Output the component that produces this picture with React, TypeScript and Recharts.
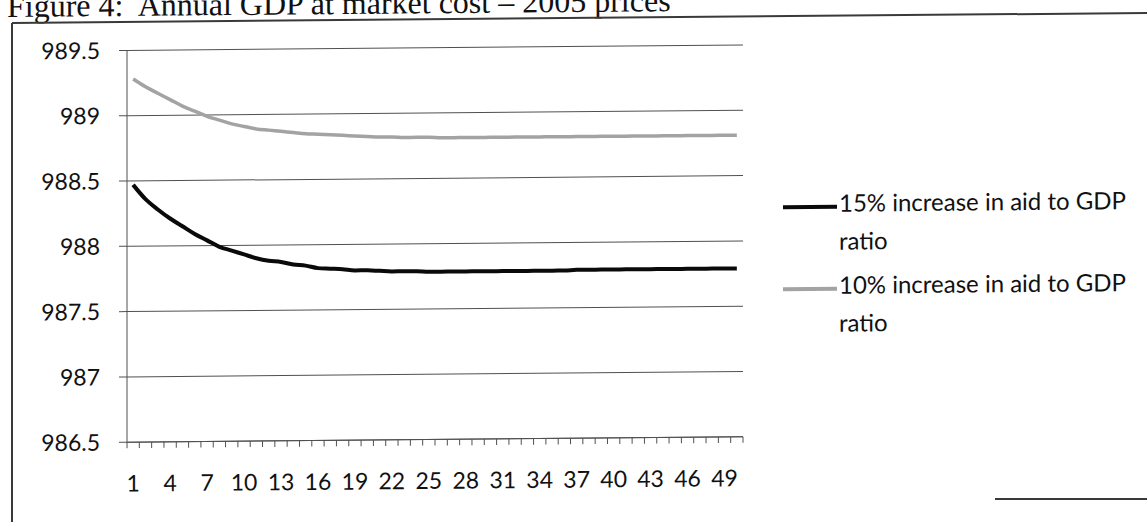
import React from 'react';
import { LineChart, Line, XAxis, YAxis, CartesianGrid } from 'recharts';

const periods = [1, 2, 3, 4, 5, 6, 7, 8, 9, 10, 11, 12, 13, 14, 15, 16, 17, 18, 19, 20, 21, 22, 23, 24, 25, 26, 27, 28, 29, 30, 31, 32, 33, 34, 35, 36, 37, 38, 39, 40, 41, 42, 43, 44, 45, 46, 47, 48, 49, 50];

const aid15 = [
  988.47, 988.36, 988.28, 988.21, 988.15, 988.09, 988.04, 987.99, 987.96, 987.93,
  987.9, 987.88, 987.87, 987.85, 987.84, 987.82, 987.815, 987.81, 987.8, 987.8,
  987.795, 987.79, 987.79, 987.79, 987.785, 987.785, 987.785, 987.785, 987.785, 987.785,
  987.785, 987.785, 987.785, 987.785, 987.785, 987.785, 987.79, 987.79, 987.79, 987.79,
  987.79, 987.79, 987.79, 987.79, 987.79, 987.79, 987.79, 987.79, 987.79, 987.79,
];

const aid10 = [
  989.28, 989.22, 989.17, 989.12, 989.07, 989.03, 988.99, 988.96, 988.93, 988.91,
  988.89, 988.88, 988.87, 988.86, 988.85, 988.845, 988.84, 988.835, 988.83, 988.825,
  988.82, 988.82, 988.815, 988.815, 988.815, 988.81, 988.81, 988.81, 988.81, 988.81,
  988.81, 988.81, 988.81, 988.81, 988.81, 988.81, 988.81, 988.81, 988.81, 988.81,
  988.81, 988.81, 988.81, 988.81, 988.81, 988.81, 988.81, 988.81, 988.81, 988.81,
];

const yTicks = [986.5, 987, 987.5, 988, 988.5, 989, 989.5];
const xLabelTicks = [1, 4, 7, 10, 13, 16, 19, 22, 25, 28, 31, 34, 37, 40, 43, 46, 49];
const xBoundaryTicks = [
  0.5, 1.5, 2.5, 3.5, 4.5, 5.5, 6.5, 7.5, 8.5, 9.5, 10.5, 11.5, 12.5, 13.5, 14.5, 15.5, 16.5,
  17.5, 18.5, 19.5, 20.5, 21.5, 22.5, 23.5, 24.5, 25.5, 26.5, 27.5, 28.5, 29.5, 30.5, 31.5, 32.5,
  33.5, 34.5, 35.5, 36.5, 37.5, 38.5, 39.5, 40.5, 41.5, 42.5, 43.5, 44.5, 45.5, 46.5, 47.5, 48.5,
  49.5, 50.5,
];

const seriesNames = ['15% increase in aid to GDP', '10% increase in aid to GDP'];
const titleText = 'Figure 4:  Annual GDP at market cost \u2013 2005 prices';

const FONT = 'Lato, "Open Sans", sans-serif';
const BLACK = '#0a0a0a';
const GRAY = '#a3a3a3';
const GRID = '#505050';

const legendItems = [
  { name: seriesNames[0], color: BLACK },
  { name: seriesNames[1], color: GRAY },
];

function LegendOverlay() {
  return (
    <div
      style={{
        position: 'absolute',
        left: 783,
        top: 191,
        width: 380,
        fontFamily: FONT,
        fontSize: 24,
        color: '#111',
        lineHeight: '38px',
      }}
    >
      {legendItems.map((it, i) => (
        <div key={i} style={{ display: 'flex', alignItems: 'flex-start', marginBottom: 6 }}>
          <div style={{ width: 54, height: 4, background: it.color, marginTop: 21, marginRight: 2, flex: 'none' }} />
          <div style={{ whiteSpace: 'pre' }}>
            {it.name}
            <br />
            ratio
          </div>
        </div>
      ))}
    </div>
  );
}

export default function App() {
  const data = periods.map((t, i) => ({ t, a15: aid15[i], a10: aid10[i] }));
  return (
    <div
      style={{
        position: 'absolute',
        left: 0,
        top: 0,
        width: 1147,
        height: 522,
        overflow: 'hidden',
        background: '#fff',
      }}
    >
      <div
        style={{
          position: 'absolute',
          left: 0,
          top: 0,
          width: 1160,
          height: 560,
          transform: 'skewY(-0.5deg)',
          transformOrigin: '0 0',
        }}
      >
        <svg width={1160} height={560} style={{ position: 'absolute', left: 0, top: 0 }}>
          <text
            x={7}
            y={17}
            fontFamily='"Liberation Serif", "Times New Roman", serif'
            fontSize={32}
            fill="#111"
            style={{ whiteSpace: 'pre' }}
          >
            {titleText}
          </text>
          <line x1={12} y1={23} x2={1160} y2={23} stroke="#3a3a3a" strokeWidth={2} />
          <line x1={12} y1={23} x2={12} y2={560} stroke="#3a3a3a" strokeWidth={2} />
        </svg>
        <div style={{ position: 'absolute', left: 0, top: 0 }}>
          <LineChart
            width={1147}
            height={522}
            data={data}
            margin={{ top: 51.5, right: 404, bottom: 20.7, left: 67 }}
          >
            <CartesianGrid vertical={false} stroke={GRID} strokeWidth={1} />
            <XAxis
              xAxisId="a"
              dataKey="t"
              type="number"
              domain={[0.5, 50.5]}
              ticks={xBoundaryTicks}
              interval={0}
              tickFormatter={() => ''}
              tickSize={6}
              height={8}
              axisLine={{ stroke: GRID, strokeWidth: 1 }}
              tickLine={{ stroke: GRID, strokeWidth: 1 }}
              allowDataOverflow
            />
            <XAxis
              xAxisId="b"
              dataKey="t"
              type="number"
              domain={[0.5, 50.5]}
              ticks={xLabelTicks}
              interval={0}
              axisLine={false}
              tickLine={false}
              tickSize={0}
              tickMargin={25}
              height={50}
              tick={{ fontFamily: FONT, fontSize: 23, fill: '#111' }}
              allowDataOverflow
            />
            <YAxis
              domain={[986.5, 989.5]}
              ticks={yTicks}
              interval={0}
              width={60}
              tickSize={8}
              tickMargin={19}
              axisLine={{ stroke: GRID, strokeWidth: 1 }}
              tickLine={{ stroke: GRID, strokeWidth: 1 }}
              tick={{ fontFamily: FONT, fontSize: 23, fill: '#111' }}
              allowDataOverflow
            />
            <Line
              xAxisId="a"
              type="monotone"
              dataKey="a15"
              name={seriesNames[0]}
              stroke={BLACK}
              strokeWidth={4}
              dot={false}
              isAnimationActive={false}
            />
            <Line
              xAxisId="a"
              type="monotone"
              dataKey="a10"
              name={seriesNames[1]}
              stroke={GRAY}
              strokeWidth={3.5}
              dot={false}
              isAnimationActive={false}
            />
          </LineChart>
        </div>
        <LegendOverlay />
      </div>
      <svg width={1147} height={522} style={{ position: 'absolute', left: 0, top: 0, pointerEvents: 'none' }}>
        <line x1={995} y1={499} x2={1147} y2={499} stroke="#3a3a3a" strokeWidth={2} />
      </svg>
    </div>
  );
}
